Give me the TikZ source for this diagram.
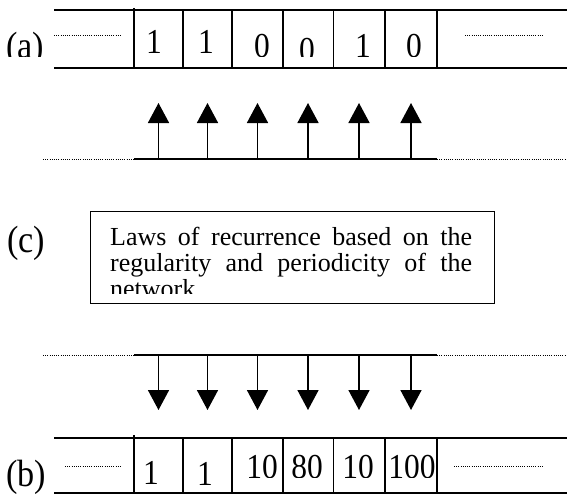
\documentclass[tikz,border=0pt]{standalone}
\usepackage{fontspec}
\setmainfont{Liberation Serif}
\newfontfamily\narrowserif[FakeStretch=0.9]{Liberation Serif}
\usetikzlibrary{arrows.meta}
\tikzset{
  tape/.style={line width=1.6pt},
  dots/.style={line width=0.9pt, dash pattern=on 0.9pt off 1.3pt},
  solid rail/.style={line width=1.6pt},
  rule arrow/.style={-{Triangle[length=20pt, width=21pt]}, line width=1.6pt},
  digit/.style={anchor=base, inner sep=0pt, font=\narrowserif\fontsize{35}{35}\selectfont},
  tag/.style={anchor=base west, inner sep=0pt, font=\narrowserif\fontsize{38}{38}\selectfont},
  law box/.style={draw, line width=1.2pt, anchor=north west, inner sep=0pt,
    minimum width=404pt, minimum height=92pt},
}

\begin{document}
\begin{tikzpicture}[x=1pt, y=-1pt]
  \useasboundingbox (0,0) rectangle (567,495);

  % Tape (a)
  \draw[tape] (54,10) -- (567,10);
  \draw[tape] (54,68) -- (567,68);
  \draw[tape] (134,8) -- (134,68);
  \foreach \x in {183,232,283,333.5,385,437}
    \draw[tape] (\x,10) -- (\x,68);
  \draw[dots] (54,35) -- (122,35);
  \draw[dots] (465,35) -- (544,35);
  \begin{scope}
    \clip (0,0) rectangle (567,57);
    \node[tag] (taga) at (6,59) {(a)};
    \foreach \x/\y/\d [count=\i] in {154/53/1, 206/53/1, 262/58/0,
                                     307/61/0, 363/58/1, 414/58/0}
      \node[digit] (acell\i) at (\x,\y) {\d};
  \end{scope}

  % Upward rules
  \draw[dots] (43,159) -- (134,159);
  \draw[solid rail] (134,159) -- (437,159);
  \draw[dots] (437,159) -- (567,159);
  \foreach \x [count=\i] in {158.5,207.5,257.5,308,359,411} {
    \coordinate (up\i) at (\x,159);
    \coordinate (uptip\i) at (\x,103);
    \draw[rule arrow] (up\i) -- (uptip\i);
  }

  % Box (c)
  \node[tag] (tagc) at (7,252) {(c)};
  \node[law box] (laws) at (90,211) {};
  \begin{scope}
    \clip (90,211) rectangle (494,293);
    \node[anchor=base west, inner sep=0pt] (lawtext) at (110,245)
      {\parbox[t]{362pt}{\fontsize{26}{26}\selectfont\hbadness=10000
        Laws of recurrence based on the\linebreak
        regularity and periodicity of the\linebreak
        network}};
  \end{scope}

  % Downward rules
  \draw[dots] (43,355) -- (134,355);
  \draw[solid rail] (134,355) -- (437,355);
  \draw[dots] (437,355) -- (567,355);
  \foreach \x [count=\i] in {158.5,207.5,257.5,308,359,411} {
    \coordinate (down\i) at (\x,355);
    \coordinate (downtip\i) at (\x,410);
    \draw[rule arrow] (down\i) -- (downtip\i);
  }

  % Tape (b)
  \draw[tape] (54,438) -- (567,438);
  \draw[tape] (54,493) -- (567,493);
  \draw[tape] (134,435) -- (134,493);
  \foreach \x in {183,232,283,333.5,385,437}
    \draw[tape] (\x,438) -- (\x,493);
  \draw[dots] (65,466) -- (122,466);
  \draw[dots] (454,466) -- (544,466);
  \node[tag] (tagb) at (6,486) {(b)};
  \node[digit] (bcell1) at (151,484) {1};
  \node[digit] (bcell2) at (205,485) {1};
  \begin{scope}
    \clip (232,438) rectangle (437,477);
    \foreach \x/\d [count=\i from 3] in {262/10, 307/80, 358/10, 412/100}
      \node[digit] (bcell\i) at (\x,478) {\d};
  \end{scope}
\end{tikzpicture}
\end{document}
